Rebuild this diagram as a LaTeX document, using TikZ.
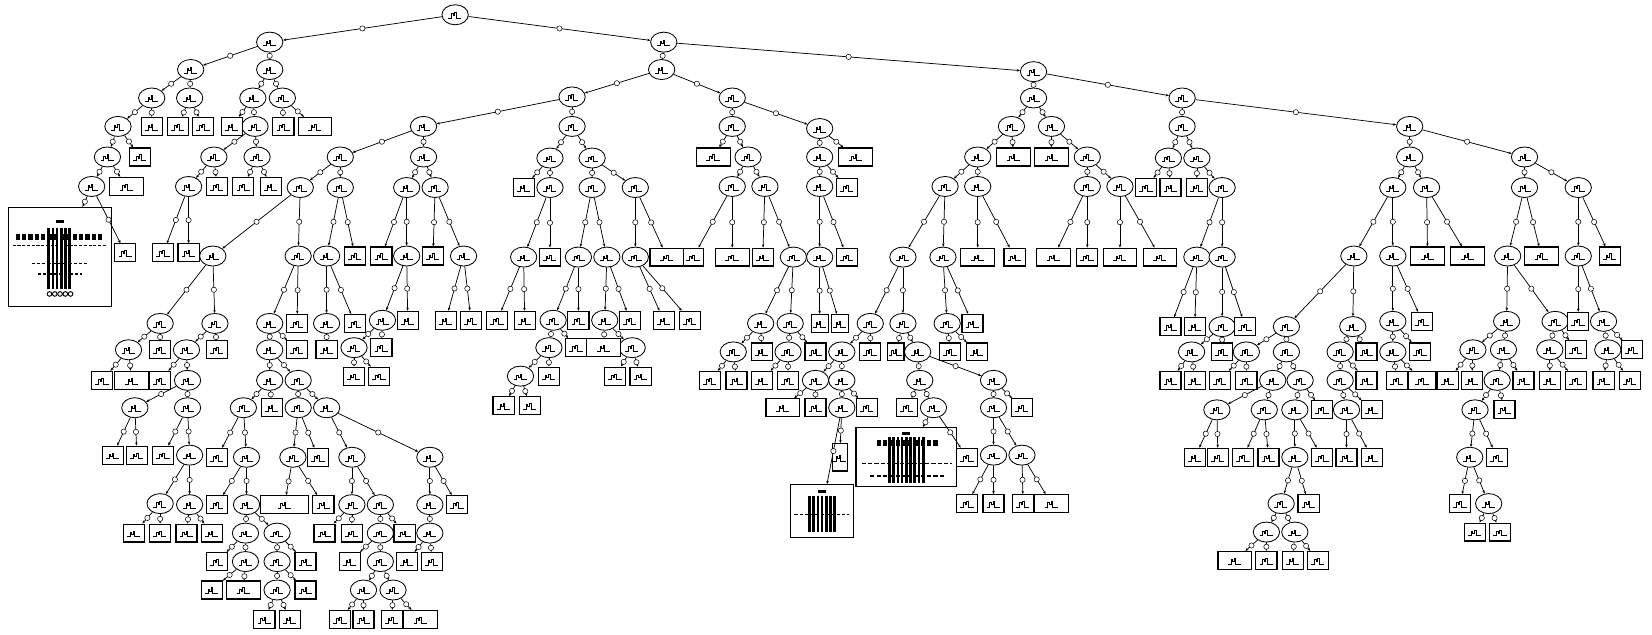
\documentclass[tikz,border=0pt]{standalone}
\usetikzlibrary{shapes.geometric,arrows.meta}
\begin{document}
\begin{tikzpicture}[x=1pt,y=-1pt,
 gl/.style={path picture={
   \draw[line width=0.8pt] ([shift={(-6.5pt,-3.5pt)}]path picture bounding box.center) -- ++(3pt,0pt) -- ++(0pt,4.5pt) -- ++(1.5pt,0pt) -- ++(0pt,-2pt) -- ++(1.5pt,0pt) -- ++(0pt,3pt) -- ++(1.5pt,0pt) -- ++(0pt,-5.5pt) -- ++(5pt,0pt);
   \fill ([shift={(-2.5pt,2.5pt)}]path picture bounding box.center) rectangle ++(5pt,1.3pt);}},
 en/.style={ellipse, draw, line width=0.8pt, minimum width=25pt, minimum height=19pt, inner sep=0pt, fill=white, gl},
 bx/.style={rectangle, draw, line width=1.1pt, minimum width=20pt, minimum height=17pt, inner sep=0pt, fill=white, gl},
 nbx/.style={bx, minimum width=16pt},
 wbx/.style={bx, minimum width=32pt},
 wwbx/.style={bx, minimum width=46pt},
 bigbx/.style={rectangle, draw, line width=1.1pt, inner sep=0pt, fill=white},
 edge/.style={line width=0.7pt, -{Stealth[length=3pt,width=2.4pt]}},
 mk/.style={circle, draw, line width=0.5pt, fill=white, minimum size=5pt, inner sep=0pt}]
\fill[white] (0,0) rectangle (1568,602);
\useasboundingbox (0,0) rectangle (1568,602);
% ellipses
\foreach \n/\x/\y in {r/432/14, a/256/40, b/630/40, a1/181/66, a2/256/66, a11/144/93, a12/180/93, a21/240/93, a22/268/93, c1/112/120, c6/242/120, d1/102/149, d3/203/149, d4/244/149, e1/87/177, e3/179/177,
 b1/628/66, b2/981/68, g1/543/92, g2/695/93, h1/402/120, h2/543/120, i1/323/149, i2/402/149, j1/285/178, j2/323/178, j3/386/178, j4/413/178, k1/202/243, k2/283/243, k3/310/243, k6/386/243, k8/440/243,
 k6a/363/304, k6b/336/330,
 L1/256/307, L3/310/307, L5/256/332, L8/256/361, L9/283/361, L10/231/387, L12/283/387, L13/310/387, L15/234/434, L17/234/479, L18/233/506, L19/263/506, L21/233/533, L24/263/533, L26/263/560, L30/278/434, L34/334/434, L35/408/434, L36/334/479, L37/361/479, L40/361/506, L43/361/533, L44/345/560, L45/373/560, L50/408/479, L52/408/506,
 M1/152/307, M2/204/307, M3/122/332, M7/177/332, M10/178/361, M11/128/387, M12/178/387, M16/180/432, M17/152/478, M18/180/479,
 l1/522/150, l2/562/150, m2/522/178, m3/562/178, m4/603/178, n1/497/244, n3/549/244, n4/576/244, n5/603/244, o3/525/304, o5/574/304, p1/521/330, p4/600/330, q1/494/357,
 s1/695/120, s2/778/122, t2/710/149, u1/695/177, u2/726/177, v4/753/244, w1/722/307, w2/750/307, x1/696/334, x3/748/334, t3/778/149, u3/778/177, v5/778/244,
 z1/981/93, z2/1122/93, za/960/120, zb/998/120, zc/928/149, zf/1032/149, zg/897/177, zh/928/177, zi/1032/177, zj/1063/177, zk/857/244, zl/895/244, aa1/826/307, aa2/857/307, aa3/899/307, ab1/799/334, ab4/871/334, ac1/774/361, ac2/799/361, ad3/799/387, ac3/873/361, ac4/943/361, ad6/886/387, ad7/943/387, ae3/943/432, ae4/970/432,
 zz1/1122/120, zz2/1338/120, R1/1109/150, R2/1136/150, R6/1160/178, R7/1136/244, R8/1160/244, R11/1160/310, R13/1131/334,
 S1/1338/149, S2/1447/149, S3/1322/178, S4/1354/178, S5/1285/243, S6/1322/243, S9/1221/310, S10/1284/310, S11/1183/334, S12/1221/334, S15/1208/361, S16/1234/361, S17/1155/389, S18/1200/389, S19/1229/389, S25/1229/434, S27/1216/478, S29/1202/505, S30/1229/505, S35/1272/334, S37/1272/361, S39/1278/389, S43/1322/305, S45/1322/334,
 T1/1447/178, T2/1498/178, T3/1431/243, T5/1498/243, T7/1430/305, T8/1476/305, T10/1522/305, T11/1398/332, T12/1427/332, T15/1421/361, T17/1400/389, T19/1395/434, T22/1413/478, T25/1471/332, T29/1526/332}
 \node[en] (\n) at (\x,\y) {};
% boxes
\foreach \n/\x/\y in {c2/144/120, c3/169/120, c4/193/120, c5/220/120, c7/269/120, d2/133/149, e4/206/177, e5/231/177, e6/257/177, f2/119/240, f3/155/240, f4/179/240,
 k4/337/243, k5/362/243, k7/411/243, k6f/387/304, k6e/362/330, k6c/336/357, k6d/360/357, k8a/423/304, k8b/447/304,
 L2/282/307, L4/337/307, L6/282/332, L7/310/332, L11/258/387, L14/206/434, L16/206/479, L20/206/533, L22/201/560, L25/290/533, L27/290/560, L28/251/588, L29/275/588, L31/302/434, L33/307/479, L38/308/506, L39/334/506, L41/384/506, L42/332/533, L46/323/588, L47/345/588, L48/372/588, L51/434/479, L54/386/533, L55/410/533,
 M4/152/332, M5/97/361, M8/206/332, M9/152/361, M13/107/432, M14/130/432, M15/155/432, M19/127/506, M20/152/506, M21/177/506, M22/201/506,
 m1/497/178, n2/522/244, o1/472/304, o2/498/304, o4/549/304, o6/598/304, o7/630/304, o8/655/304, p2/547/330, q2/521/357, r1/478/385, r2/503/385, q3/584/357, q4/608/357,
 v1/658/244, v3/724/244, x2/723/334, x4/774/334, y1/674/361, y2/699/361, y3/723/361, y4/748/361, u4/804/178, v6/804/244,
 zn/963/244, zp/1032/244, aa4/923/307, ab2/826/334, ab5/902/334, ab6/927/334, ad2/774/387, ad4/823/387, ad5/861/387, ae2/918/434, ad8/970/387, af1/918/478, af2/943/478, af3/971/478,
 R3/1088/178, R4/1111/178, R5/1136/178, R9/1111/310, R10/1134/310, R12/1182/310, R14/1160/334, R15/1111/361, R16/1134/361,
 S13/1158/361, S14/1183/361, S20/1255/389, S21/1134/434, S22/1156/434, S23/1180/434, S24/1204/434, S26/1255/434, S28/1242/478, S32/1202/532, S33/1227/532, S34/1251/532, S36/1297/334, S38/1297/361, S40/1302/389, S41/1278/434, S42/1302/434, S44/1350/305, S46/1348/334, S47/1326/361,
 T6/1528/243, T9/1498/305, T13/1374/361, T14/1397/361, T16/1446/361, T18/1428/389, T20/1421/434, T21/1386/478, T23/1400/505, T24/1424/505, T26/1496/332, T27/1471/361, T28/1496/361, T30/1549/332, T31/1522/361, T32/1547/361}
 \node[bx] (\n) at (\x,\y) {};
\foreach \n/\x/\y in {w3/778/307, w4/797/307, ab3/850/334}
 \node[nbx] (\n) at (\x,\y) {};
\foreach \n/\x/\y in {c8/299/120, e2/120/177, M6/125/361, L23/231/560, L49/399/588, n6/633/244, p3/573/330, t1/677/149, v2/695/244, t4/812/149, zd/962/149, ze/998/149, zm/928/244, zo/1000/244, zq/1063/244, zr/1101/244, ad1/743/387, af4/998/478, S7/1355/243, S8/1393/243, S31/1172/532, T4/1463/243}
 \node[wbx] (\n) at (\x,\y) {};
\node[bx, minimum width=26pt] (S48) at (1350,361) {};
\node[wwbx] (L32) at (270,479) {};
\node[bx, minimum width=14pt, minimum height=26pt] (ae1) at (797,434) {};
% big boxes
\node[bigbx, minimum width=98pt, minimum height=94pt] (f1) at (57,244) {};
\node[bigbx, minimum width=95pt, minimum height=56pt] (bb2) at (860,434) {};
\node[bigbx, minimum width=60pt, minimum height=50pt] (bb3) at (780,485) {};
% contents of big boxes
\begin{scope}
 \fill (53,209) rectangle (61,212);
 \foreach \i in {0,...,13} \fill (15+6*\i,222) rectangle ++(4,6);
 \draw[line width=1pt, dash pattern=on 3pt off 1.5pt] (12,233) -- (102,233);
 \foreach \i in {0,...,5} \fill (45+4*\i,216) rectangle ++(2.5,58);
 \draw[line width=1.4pt, dash pattern=on 3pt off 2pt] (30,250) -- (84,250);
 \draw[line width=1.2pt, dash pattern=on 3pt off 2pt] (36,260) -- (78,260);
 \foreach \i in {0,...,4} \draw[line width=0.9pt] (47+5*\i,279) circle (2.2);
 \fill (856,410) rectangle (864,413);
 \foreach \i in {0,...,9} \fill (832+6*\i,418) rectangle ++(4,5);
 \foreach \i in {0,...,8} \fill (843+4*\i,415) rectangle ++(2.5,43);
 \draw[line width=1.4pt, dash pattern=on 4pt off 2pt] (818,440) -- (904,440);
 \draw[line width=1.4pt, dash pattern=on 4pt off 2pt] (826,452) -- (896,452);
 \fill (776,465) rectangle (784,468);
 \foreach \i in {0,...,6} \fill (767+4*\i,471) rectangle ++(2.5,34);
 \draw[line width=1.2pt, dash pattern=on 3pt off 2pt] (754,488) -- (806,488);
\end{scope}
% edges
\foreach \p/\c in {r/a, r/b, a/a1, a/a2, a1/a11, a1/a12, a2/a21, a2/a22, a11/c1, a11/c2, a12/c3, a12/c4, a21/c5, a21/c6, a22/c7, a22/c8, c1/d1, c1/d2, c6/d3, c6/d4, d1/e1, d1/e2, d3/e3, d3/e4, d4/e5, d4/e6, e1/f1, e1/f2, e3/f3, e3/f4,
 b/b1, b/b2, b1/g1, b1/g2, g1/h1, g1/h2, h1/i1, h1/i2, i1/j1, i1/j2, i2/j3, i2/j4, j1/k1, j1/k2, j2/k3, j2/k4, j3/k5, j3/k6, j4/k7, j4/k8, k6/k6a, k6/k6f, k6a/k6b, k6a/k6e, k6b/k6c, k6b/k6d, k8/k8a, k8/k8b,
 k2/L1, k2/L2, k3/L3, k3/L4, L1/L5, L1/L6, L3/L7, L5/L8, L5/L9, L8/L10, L8/L11, L9/L12, L9/L13, L10/L14, L10/L15, L15/L16, L15/L17, L17/L18, L17/L19, L18/L20, L18/L21, L21/L22, L21/L23, L19/L24, L19/L25, L24/L26, L24/L27, L26/L28, L26/L29, L12/L30, L12/L31, L30/L32, L30/L33, L13/L34, L13/L35, L34/L36, L34/L37, L36/L38, L36/L39, L37/L40, L37/L41, L40/L42, L40/L43, L43/L44, L43/L45, L44/L46, L44/L47, L45/L48, L45/L49, L35/L50, L35/L51, L50/L52, L52/L54, L52/L55,
 k1/M1, k1/M2, M1/M3, M1/M4, M3/M5, M3/M6, M2/M7, M2/M8, M7/M9, M7/M10, M10/M11, M10/M12, M11/M13, M11/M14, M12/M15, M12/M16, M16/M17, M16/M18, M17/M19, M17/M20, M18/M21, M18/M22,
 h2/l1, h2/l2, l1/m1, l1/m2, l2/m3, l2/m4, m2/n1, m2/n2, m3/n3, m3/n4, m4/n5, m4/n6, n1/o1, n1/o2, n3/o3, n3/o4, n4/o5, n4/o6, n5/o7, n5/o8, o3/p1, o3/p2, p1/q1, p1/q2, q1/r1, q1/r2, o5/p3, o5/p4, p4/q3, p4/q4,
 g2/s1, g2/s2, s1/t1, s1/t2, t2/u1, t2/u2, u1/v1, u1/v2, u2/v3, u2/v4, v4/w1, v4/w2, w1/x1, w1/x2, w2/x3, w2/x4, x1/y1, x1/y2, x3/y3, x3/y4, s2/t3, s2/t4, t3/u3, t3/u4, u3/v5, u3/v6, v5/w3, v5/w4,
 b2/z1, b2/z2, z1/za, z1/zb, za/zc, za/zd, zb/ze, zb/zf, zc/zg, zc/zh, zf/zi, zf/zj, zg/zk, zg/zl, zh/zm, zh/zn, zi/zo, zi/zp, zj/zq, zj/zr, zk/aa1, zk/aa2, zl/aa3, zl/aa4, aa1/ab1, aa1/ab2, aa2/ab3, aa2/ab4, aa3/ab5, aa3/ab6, ab1/ac1, ab1/ac2, ac1/ad1, ac1/ad2, ac2/ad3, ac2/ad4, ad3/ae1, ad3/bb3, ab4/ac3, ab4/ac4, ac3/ad5, ac3/ad6, ad6/bb2, ad6/ae2, ac4/ad7, ac4/ad8, ad7/ae3, ad7/ae4, ae3/af1, ae3/af2, ae4/af3, ae4/af4,
 z2/zz1, z2/zz2, zz1/R1, zz1/R2, R1/R3, R1/R4, R2/R5, R2/R6, R6/R7, R6/R8, R7/R9, R7/R10, R8/R11, R8/R12, R11/R13, R11/R14, R13/R15, R13/R16,
 zz2/S1, zz2/S2, S1/S3, S1/S4, S3/S5, S3/S6, S4/S7, S4/S8, S5/S9, S5/S10, S9/S11, S9/S12, S11/S13, S11/S14, S12/S15, S12/S16, S15/S17, S15/S18, S16/S19, S16/S20, S17/S21, S17/S22, S18/S23, S18/S24, S19/S25, S19/S26, S25/S27, S25/S28, S27/S29, S27/S30, S29/S31, S29/S32, S30/S33, S30/S34, S10/S35, S10/S36, S35/S37, S35/S38, S37/S39, S37/S40, S39/S41, S39/S42, S6/S43, S6/S44, S43/S45, S43/S46, S45/S47, S45/S48,
 S2/T1, S2/T2, T1/T3, T1/T4, T2/T5, T2/T6, T3/T7, T3/T8, T5/T9, T5/T10, T7/T11, T7/T12, T11/T13, T11/T14, T12/T15, T12/T16, T15/T17, T15/T18, T17/T19, T17/T20, T19/T21, T19/T22, T22/T23, T22/T24, T8/T25, T8/T26, T25/T27, T25/T28, T10/T29, T10/T30, T29/T31, T29/T32}
 \draw[edge] (\p) -- node[mk] {} (\c);
\end{tikzpicture}
\end{document}
